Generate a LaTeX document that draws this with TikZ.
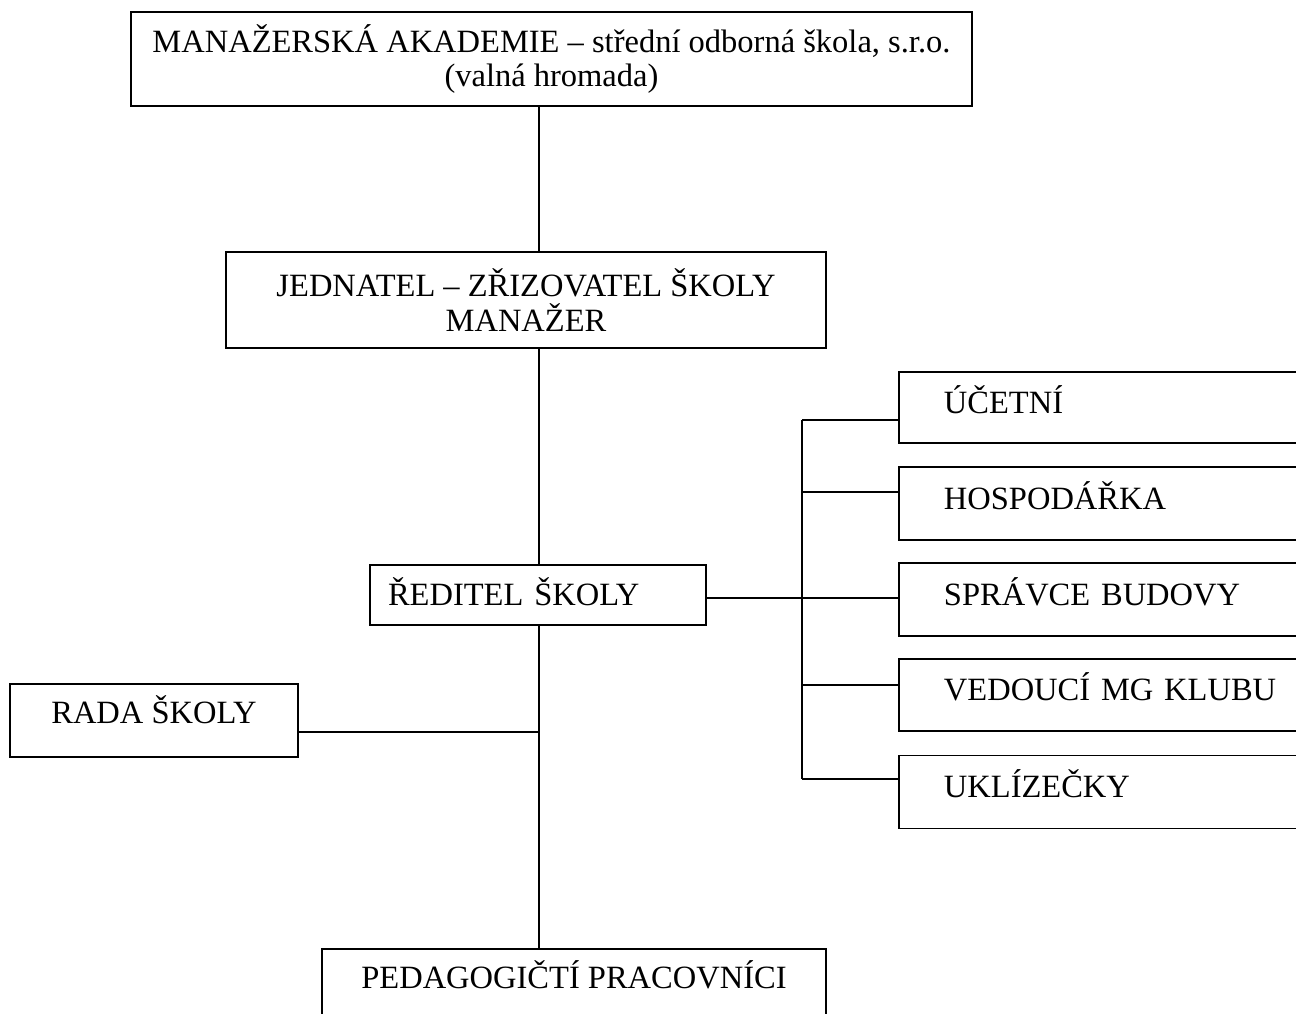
\documentclass[tikz,border=0pt]{standalone}
\usepackage{fontspec}
\setmainfont{Liberation Serif}
\tikzset{
  orgbox/.style={draw, line width=1.1pt, font=\fontsize{18.5}{19.5}\selectfont, align=center, inner sep=0pt},
  staffbox/.style={orgbox, anchor=west, minimum width=9.8cm, minimum height=1.44cm, inner xsep=0.9cm,
    text width=8cm, align=left, text height=0.6cm, text depth=0.38cm},
  link/.style={line width=1.1pt}
}
\begin{document}
\begin{tikzpicture}[x=0.02cm, y=-0.02cm]
    \useasboundingbox (0,0) rectangle (1296,1014);
    \clip (0,0) rectangle (1296,1014);
    % main chain
    \node[orgbox, minimum width=16.82cm, minimum height=1.88cm] (akademie) at (551.5,59)
        {MANAŽERSKÁ AKADEMIE – střední odborná škola, s.r.o.\\(valná hromada)};
    \node[orgbox, minimum width=12cm, minimum height=1.92cm] (jednatel) at (526,300)
        {JEDNATEL – ZŘIZOVATEL ŠKOLY\\MANAŽER};
    \node[orgbox, minimum height=1.2cm, inner xsep=0.36cm, text width=6cm, align=left,
        text height=0.6cm, text depth=0.2cm] (reditel) at (538,595) {ŘEDITEL ŠKOLY};
    \node[orgbox, minimum width=5.76cm, minimum height=1.46cm, text height=0.6cm, text depth=0.5cm]
        (rada) at (154,720.5) {RADA ŠKOLY};
    \node[orgbox, anchor=north, minimum width=10.08cm, minimum height=1.6cm, text height=0.6cm,
        text depth=0.6cm] (pedagogove) at (574,948) {PEDAGOGIČTÍ PRACOVNÍCI};
    % staff on the right
    \node[staffbox, minimum height=1.42cm] (ucetni) at (898,407.5) {ÚČETNÍ};
    \node[staffbox, minimum height=1.46cm] (hospodarka) at (898,503.5) {HOSPODÁŘKA};
    \node[staffbox, minimum height=1.46cm] (spravce) at (898,599.5) {SPRÁVCE BUDOVY};
    \node[staffbox] (vedouci) at (898,695) {VEDOUCÍ MG KLUBU};
    \node[staffbox, minimum height=1.46cm] (uklizecky) at (898,792) {UKLÍZEČKY};
    % joints
    \coordinate (spine) at (539,0);
    \coordinate (radajoin) at (539,732);
    \coordinate (bustop) at (802,420);
    \coordinate (bus) at (802,598);
    \coordinate (busbottom) at (802,779);
    % connectors
    \draw[link] (spine |- akademie.south) -- (spine |- jednatel.north);
    \draw[link] (spine |- jednatel.south) -- (spine |- reditel.north);
    \draw[link] (spine |- reditel.south) -- (spine |- pedagogove.north);
    \draw[link] (radajoin) -- (radajoin -| rada.east);
    \draw[link] (reditel.east |- bus) -- (bus) -- (bus -| spravce.west);
    \draw[link] (bustop) -- (busbottom);
    \draw[link] (bustop) -- (bustop -| ucetni.west);
    \draw[link] (802,492) coordinate (hjoin) -- (hjoin -| hospodarka.west);
    \draw[link] (802,685) coordinate (vjoin) -- (vjoin -| vedouci.west);
    \draw[link] (busbottom) -- (busbottom -| uklizecky.west);
\end{tikzpicture}
\end{document}
